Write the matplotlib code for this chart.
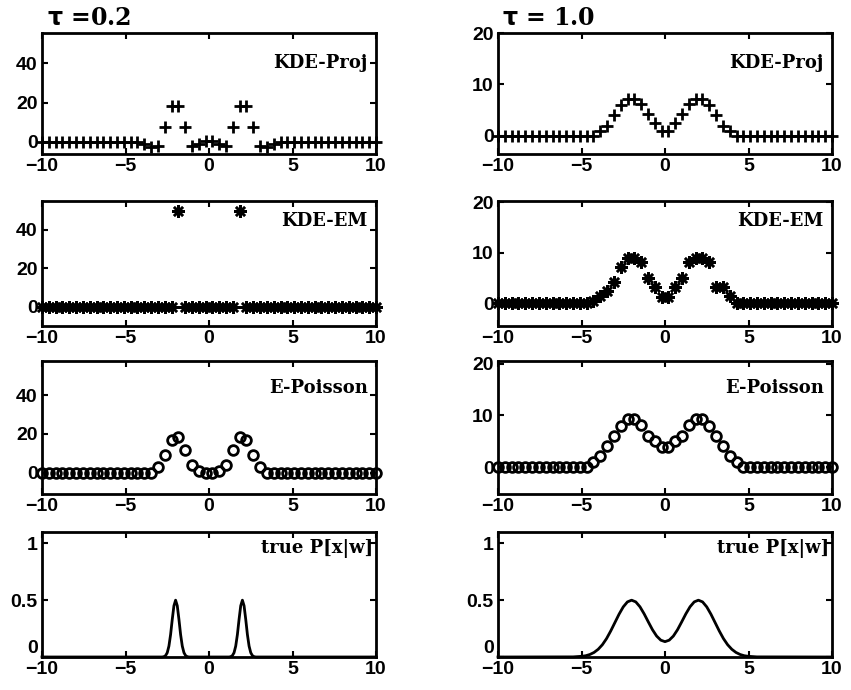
import matplotlib.pyplot as plt
import numpy as np

# sample grid used by all the estimates (50 points from -10 to 10)
x_grid = np.linspace(-10, 10, 50)

proj_02 = [0]*15 + [-1, -2.5, -2, 7.5, 18, 18, 7.5, -2, -1, 0.5,
                    0.5, -1, -2, 7.5, 18, 18, 7.5, -2, -2.5, -1] + [0]*15
em_02 = [0]*20 + [50] + [0]*8 + [50] + [0]*20
pois_02 = [0]*17 + [3, 9, 17, 18.3, 11.5, 4, 1, 0,
                    0, 1, 4, 11.5, 18.3, 17, 9, 3] + [0]*17

proj_10 = [0]*15 + [1, 2, 4, 6, 7.2, 7.2, 6.2, 4.2, 2.5, 1,
                    1, 2.5, 4.2, 6.2, 7.2, 7.2, 6, 4, 2, 1] + [0]*15
em_10 = [0]*14 + [0.5, 1.5, 2.5, 4.2, 7.2, 9, 9, 8.2, 5, 3.2, 1.2,
                  1.2, 3.2, 5, 8.2, 9, 9, 8.2, 3.2, 3.2, 1.5] + [0]*15
pois_10 = [0]*14 + [1, 2.2, 4, 6, 8, 9.2, 9.2, 8.2, 6, 5, 3.9,
                    3.9, 5, 6, 8.2, 9.2, 9.2, 8, 6, 4, 2.2, 1] + [0]*14

# true density, tau = 0.2 (narrow peaks)
true02_x = [-10, -2.8, -2.7, -2.6, -2.5, -2.4, -2.3, -2.2, -2.1, -2.0, -1.9, -1.8,
            -1.7, -1.6, -1.5, -1.4, -1.3, -1.2,
            1.2, 1.3, 1.4, 1.5, 1.6, 1.7, 1.8, 1.9, 2.0, 2.1, 2.2, 2.3, 2.4,
            2.5, 2.6, 2.7, 2.8, 10]
true02_y = [0, 0, 0.003, 0.012, 0.038, 0.096, 0.197, 0.331, 0.451, 0.5, 0.451, 0.331,
            0.197, 0.096, 0.038, 0.012, 0.003, 0,
            0, 0.003, 0.012, 0.038, 0.096, 0.197, 0.331, 0.451, 0.5, 0.451, 0.331, 0.197, 0.096,
            0.038, 0.012, 0.003, 0, 0]
# true density, tau = 1.0
true10_x = [-10, -5.5, -5, -4.75, -4.5, -4.25, -4, -3.75, -3.5, -3.25, -3, -2.75,
            -2.5, -2.25, -2, -1.75, -1.5, -1.25, -1, -0.75, -0.5, -0.25, 0,
            0.25, 0.5, 0.75, 1, 1.25, 1.5, 1.75, 2, 2.25, 2.5, 2.75, 3, 3.25,
            3.5, 3.75, 4, 4.25, 4.5, 4.75, 5, 5.5, 10]
true10_y = [0, 0.001, 0.006, 0.011, 0.022, 0.040, 0.068, 0.108, 0.162, 0.229, 0.303, 0.377,
            0.441, 0.485, 0.5, 0.485, 0.442, 0.380, 0.309, 0.240, 0.184, 0.148, 0.135,
            0.148, 0.184, 0.240, 0.309, 0.380, 0.442, 0.485, 0.5, 0.485, 0.441, 0.377, 0.303, 0.229,
            0.162, 0.108, 0.068, 0.040, 0.022, 0.011, 0.006, 0.001, 0]

W, H = 851, 690
fig = plt.figure(figsize=(W/100, H/100), dpi=100)

cols = [42, 498]
rows = [(33, 154), (201, 326), (361, 494), (532, 657)]
aw = 334
# y ranges per panel (left column, right column)
ylims = [[(-6.3, 55.5), (-3.5, 20)],
         [(-10, 55), (-4.5, 20.2)],
         [(-11, 57.7), (-5.2, 20.5)]]
label_dy = [30, 20, 27]   # label distance below the top of the box, px

def make_ax(c, r):
    top, bot = rows[r]
    ax = fig.add_axes([cols[c]/W, 1 - bot/H, aw/W, (bot - top)/H])
    for s in ax.spines.values():
        s.set_linewidth(2)
    ax.tick_params(direction='in', length=4, width=1.5, top=True, right=True,
                   labelsize=14, pad=3)
    ax.set_xlim(-10, 10)
    ax.set_xticks([-10, -5, 0, 5, 10])
    return ax

def boldticks(ax):
    for lab in ax.get_xticklabels() + ax.get_yticklabels():
        lab.set_fontweight('bold')
        lab.set_family('Liberation Sans')

lab_kw = dict(ha='right', va='center', fontsize=13, fontweight='bold', family='DejaVu Serif')

series = [(proj_02, proj_10, '+', 'KDE-Proj'),
          (em_02, em_10, (8, 2, 0), 'KDE-EM'),
          (pois_02, pois_10, 'o', 'E-Poisson')]

for r, (left, right, mk, name) in enumerate(series):
    for c, data in enumerate([left, right]):
        ax = make_ax(c, r)
        if mk == 'o':
            ax.plot(x_grid, data, linestyle='none', marker='o', ms=7, mfc='none',
                    mec='black', mew=2, clip_on=False)
        elif mk == '+':
            ax.plot(x_grid, data, linestyle='none', marker='+', ms=8.5, color='black',
                    mew=2, clip_on=False)
        else:
            ax.plot(x_grid, data, linestyle='none', marker=mk, ms=9, color='black',
                    mew=1.8, clip_on=False)
        ax.set_ylim(*ylims[r][c])
        ax.set_yticks([0, 20, 40] if c == 0 else [0, 10, 20])
        top, bot = rows[r]
        ax.text(0.975, 1 - label_dy[r]/(bot - top), name, transform=ax.transAxes, **lab_kw)
        boldticks(ax)

for c, (tx, ty) in enumerate([(true02_x, true02_y), (true10_x, true10_y)]):
    ax = make_ax(c, 3)
    ax.plot(tx, ty, color='black', linewidth=2, clip_on=False)
    ax.set_ylim(0, 1.1)
    ax.set_yticks([0, 0.5, 1])
    ax.set_yticklabels(['0', '0.5', '1'])
    ax.get_yticklabels()[0].set_va('bottom')
    ax.text(0.99, 0.87, 'true P[x|w]', transform=ax.transAxes, **lab_kw)
    boldticks(ax)

fig.text(47/W, 1 - 18/H, r'$\mathbf{\tau}$ =0.2', fontsize=17, fontweight='bold',
         family='DejaVu Serif', va='center')
fig.text(502/W, 1 - 18/H, r'$\mathbf{\tau}$ = 1.0', fontsize=17, fontweight='bold',
         family='DejaVu Serif', va='center')

fig.savefig('out.png', dpi=100)
